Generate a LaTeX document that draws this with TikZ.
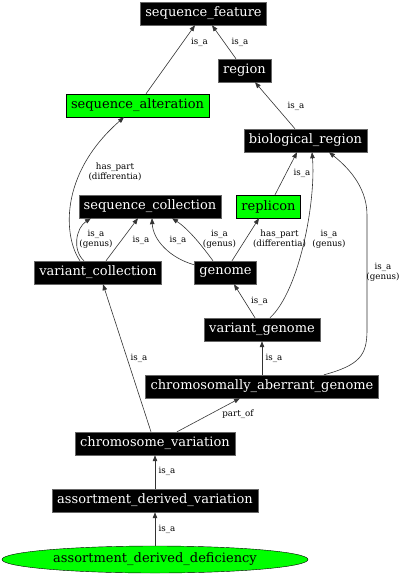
\documentclass[tikz,border=0pt]{standalone}
\usepackage{fontspec}
\setmainfont{DejaVu Serif}
\usetikzlibrary{arrows.meta}
\usetikzlibrary{shapes.geometric}
\tikzset{
	term/.style={shape=rectangle,draw=black!60,fill=black,text=white,minimum height=23pt,inner xsep=5pt,inner ysep=0pt,font=\fontsize{13}{13}\selectfont},
	termgreen/.style={term,draw=black,fill=green,text=black},
	rel/.style={font=\fontsize{8.7}{8.5}\selectfont,align=center,inner sep=0pt},
	link/.style={draw=black!80,line width=0.6pt,-{Triangle[length=6pt,width=4.5pt]}}
}

\begin{document}
\begin{tikzpicture}[x=1pt,y=-1pt]
	\useasboundingbox (0,0) rectangle (404,576);
	% terms
	\node[term] (sf) at (203.5,13.5) {sequence\_feature};
	\node[term] (reg) at (244.5,70.5) {region};
	\node[termgreen] (salt) at (137.5,105.5) {sequence\_alteration};
	\node[term] (breg) at (305.5,140.5) {biological\_region};
	\node[term] (scol) at (150,206.5) {sequence\_collection};
	\node[termgreen] (rep) at (268.5,206.5) {replicon};
	\node[term] (vcol) at (98,272.5) {variant\_collection};
	\node[term] (gen) at (225.5,272.5) {genome};
	\node[term] (vgen) at (262,329.5) {variant\_genome};
	\node[term] (cag) at (262,386.5) {chromosomally\_aberrant\_genome};
	\node[term] (cvar) at (155,443.5) {chromosome\_variation};
	\node[term] (adv) at (155,500.5) {assortment\_derived\_variation};
	\node[ellipse,draw,fill=green,minimum width=306pt,minimum height=27pt,inner sep=0pt,font=\fontsize{13}{13}\selectfont] (adf) at (155,559.5) {assortment\_derived\_deficiency};
	% relations
	\draw[link] ([xshift=8.5pt]salt.north) -- ([xshift=-8.5pt]sf.south);
	\draw[link] ([xshift=-8.5pt]reg.north) -- ([xshift=8.5pt]sf.south);
	\draw[link] ([xshift=-10.5pt]breg.north) -- ([xshift=10.5pt]reg.south);
	\draw[link] ([xshift=6.5pt]rep.north) -- ([xshift=-8.5pt]breg.south);
	\draw[link] ([xshift=8pt]vgen.north) .. controls (300,290) and (316,200) .. ([xshift=6.5pt]breg.south);
	\draw[link] ([xshift=62pt]cag.north) .. controls (360,365) and (367,355) .. (367,330) -- (367,215) .. controls (367,185) and (345,165) .. ([xshift=23.5pt]breg.south);
	\draw[link] ([xshift=-18pt]vcol.north) .. controls (64,238) and (58,175) .. ([xshift=-13.5pt]salt.south);
	\draw[link] ([xshift=-14pt]vcol.north) .. controls (72,250) and (76,228) .. ([xshift=-59pt]scol.south);
	\draw[link] ([xshift=8pt]vcol.north) -- ([xshift=-12pt]scol.south);
	\draw[link] ([yshift=-4pt]gen.north west) .. controls (170,258) and (153,240) .. ([xshift=2pt]scol.south);
	\draw[link] ([xshift=-12.5pt]gen.north) .. controls (205,250) and (190,230) .. ([xshift=22pt]scol.south);
	\draw[link] ([xshift=6.5pt]gen.north) -- ([xshift=-9.5pt]rep.south);
	\draw[link] ([xshift=-7pt]vgen.north) -- ([xshift=8.5pt]gen.south);
	\draw[link] (cag.north) -- (vgen.south);
	\draw[link] ([xshift=-4pt]cvar.north) -- ([xshift=5pt]vcol.south);
	\draw[link] ([xshift=22pt]cvar.north) -- ([xshift=-22pt]cag.south);
	\draw[link] (adv.north) -- (cvar.south);
	\draw[link] (adf.north) -- (adv.south);
	% labels
	\foreach \n/\x/\y in {a/199.5/42,b/240/42,c/296/106,d/302/173,e/141/240,f/178/240,g/259.5/301.7,h/274/358,i/139/358,j/167/471.7,k/167/529} {
		\node[rel] (l\n) at (\x,\y) {is\_a};
	}
	\foreach \n/\x/\y in {a/96/239,b/219.5/239,c/329/239,d/383/272.5} {
		\node[rel] (g\n) at (\x,\y) {is\_a\\(genus)};
	}
	\node[rel] (hpa) at (115,172) {has\_part\\(differentia)};
	\node[rel] (hpb) at (279.5,239) {has\_part\\(differentia)};
	\node[rel] (po) at (238,414) {part\_of};
\end{tikzpicture}
\end{document}
